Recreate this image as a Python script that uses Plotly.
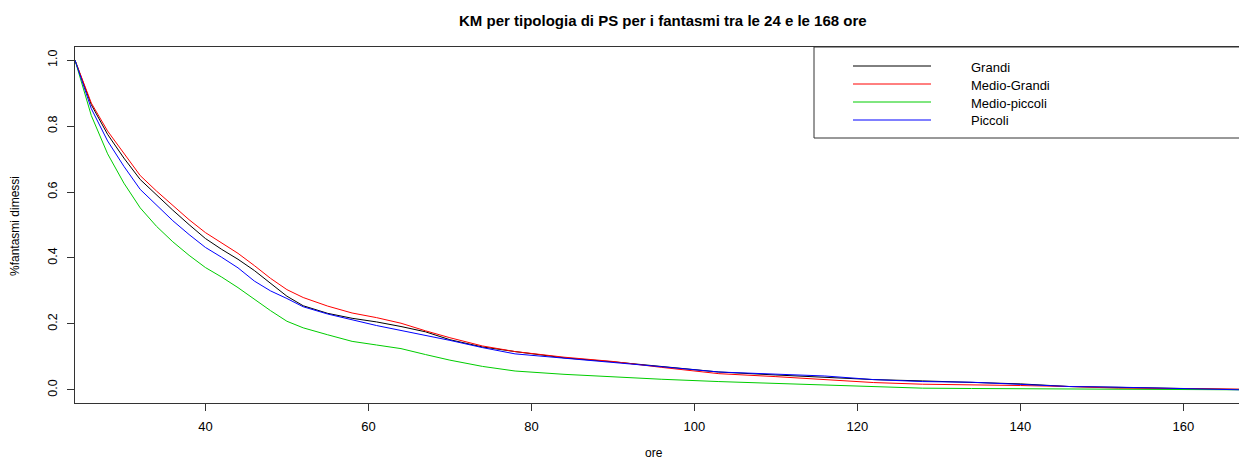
import plotly.graph_objects as go

# ---- data (hours, survival) ----
ore = [24, 26, 28, 30, 32, 34, 36, 38, 40, 42, 44, 46, 48, 50, 52, 55, 58, 61, 64, 67,
       70, 74, 78, 84, 90, 96, 103, 110, 116, 122, 128, 134, 140, 146, 152, 158, 163, 167]

grandi = [1.000, 0.865, 0.775, 0.703, 0.638, 0.590, 0.545, 0.501, 0.459, 0.426, 0.396, 0.362,
          0.324, 0.284, 0.255, 0.232, 0.217, 0.206, 0.192, 0.176, 0.152, 0.130, 0.116, 0.097,
          0.085, 0.070, 0.054, 0.045, 0.037, 0.031, 0.027, 0.023, 0.018, 0.010, 0.007, 0.004,
          0.001, 0.001]
medio_grandi = [1.000, 0.870, 0.785, 0.716, 0.650, 0.603, 0.559, 0.516, 0.477, 0.446, 0.414, 0.377,
                0.338, 0.304, 0.280, 0.254, 0.233, 0.219, 0.202, 0.179, 0.158, 0.133, 0.116, 0.099,
                0.086, 0.068, 0.049, 0.040, 0.032, 0.022, 0.017, 0.016, 0.013, 0.010, 0.005, 0.004,
                0.002, 0.002]
medio_piccoli = [1.000, 0.832, 0.716, 0.627, 0.552, 0.496, 0.449, 0.408, 0.371, 0.342, 0.310, 0.275,
                 0.240, 0.208, 0.188, 0.167, 0.147, 0.136, 0.125, 0.107, 0.090, 0.071, 0.057, 0.047,
                 0.039, 0.032, 0.025, 0.019, 0.014, 0.009, 0.005, 0.004, 0.003, 0.003, 0.002, 0.000,
                 0.000, 0.000]
piccoli = [1.000, 0.853, 0.755, 0.678, 0.608, 0.560, 0.513, 0.471, 0.432, 0.402, 0.370, 0.330,
           0.300, 0.277, 0.252, 0.230, 0.212, 0.195, 0.180, 0.166, 0.150, 0.128, 0.109, 0.096,
           0.084, 0.070, 0.054, 0.048, 0.042, 0.031, 0.025, 0.023, 0.017, 0.010, 0.008, 0.004,
           0.001, 0.000]

series_names = ["Grandi", "Medio-Grandi", "Medio-piccoli", "Piccoli"]
series_values = [grandi, medio_grandi, medio_piccoli, piccoli]
colors = ["#000000", "#FF0000", "#00CD00", "#0000FF"]

x_ticks = [40, 60, 80, 100, 120, 140, 160]
y_ticks = [0.0, 0.2, 0.4, 0.6, 0.8, 1.0]
y_tick_labels = ["0.0", "0.2", "0.4", "0.6", "0.8", "1.0"]

title = "KM per tipologia di PS per i fantasmi tra le 24 e le 168 ore"
x_title = "ore"
y_title = "%fantasmi dimessi"

W, H = 1239, 459
ML, MR, MT, MB = 75, 0, 47, 56
PW, PH = W - ML - MR, H - MT - MB
PX_PER_UNIT = 8.15


def px(xp):
    return (xp - ML) / PW


def py(yp):
    return (H - MB - yp) / PH


FONT = "Liberation Sans, Arial, Helvetica, sans-serif"
AX = "#333333"

fig = go.Figure()
for name, vals, col in zip(series_names, series_values, colors):
    fig.add_trace(go.Scatter(x=ore, y=vals, mode="lines", name=name,
                             line=dict(color=col, width=1), showlegend=False))

# custom legend (R-style box)
shapes = [dict(type="rect", xref="paper", yref="paper",
               x0=px(814), x1=px(1250), y0=py(138), y1=py(47),
               line=dict(color=AX, width=1), fillcolor="white", layer="above")]
annotations = []
row_y = [66, 84, 102, 120]
for name, col, ry in zip(series_names, colors, row_y):
    shapes.append(dict(type="line", xref="paper", yref="paper",
                       x0=px(853), x1=px(931), y0=py(ry), y1=py(ry),
                       line=dict(color=col, width=1), layer="above"))
    annotations.append(dict(text=name, xref="paper", yref="paper", x=px(969), y=py(ry + 1),
                            xanchor="left", yanchor="middle", showarrow=False,
                            font=dict(family=FONT, size=13, color="#000")))

annotations.append(dict(text="<b>" + title + "</b>", xref="paper", yref="paper",
                        x=px(663), y=py(20), xanchor="center", yanchor="middle",
                        showarrow=False, font=dict(family=FONT, size=15, color="#000")))
annotations.append(dict(text=x_title, xref="paper", yref="paper",
                        x=px(654), y=py(453), xanchor="center", yanchor="middle",
                        showarrow=False, font=dict(family=FONT, size=12, color="#000")))
annotations.append(dict(text=y_title, xref="paper", yref="paper", textangle=-90,
                        x=px(15), y=py(226), xanchor="center", yanchor="middle",
                        showarrow=False, font=dict(family=FONT, size=12, color="#000")))

fig.update_layout(
    width=W, height=H, autosize=False,
    margin=dict(l=ML, r=MR, t=MT, b=MB, pad=0),
    paper_bgcolor="white", plot_bgcolor="white",
    showlegend=False,
    shapes=shapes, annotations=annotations,
    xaxis=dict(range=[24, 24 + PW / PX_PER_UNIT], tickvals=x_ticks,
               showgrid=False, zeroline=False, showline=True, linecolor=AX, linewidth=1,
               mirror=True, ticks="outside", ticklen=7, tickcolor=AX, tickwidth=1,
               ticklabelstandoff=4,
               tickfont=dict(family=FONT, size=13, color="#000")),
    yaxis=dict(range=[-0.04, 1.04], tickvals=y_ticks, ticktext=y_tick_labels,
               tickangle=-90, showgrid=False, zeroline=False, showline=True,
               linecolor=AX, linewidth=1, mirror=False, ticks="outside", ticklen=7,
               tickcolor=AX, tickwidth=1, ticklabelstandoff=5,
               tickfont=dict(family=FONT, size=12.5, color="#000")),
)

fig.write_html("out.html")
